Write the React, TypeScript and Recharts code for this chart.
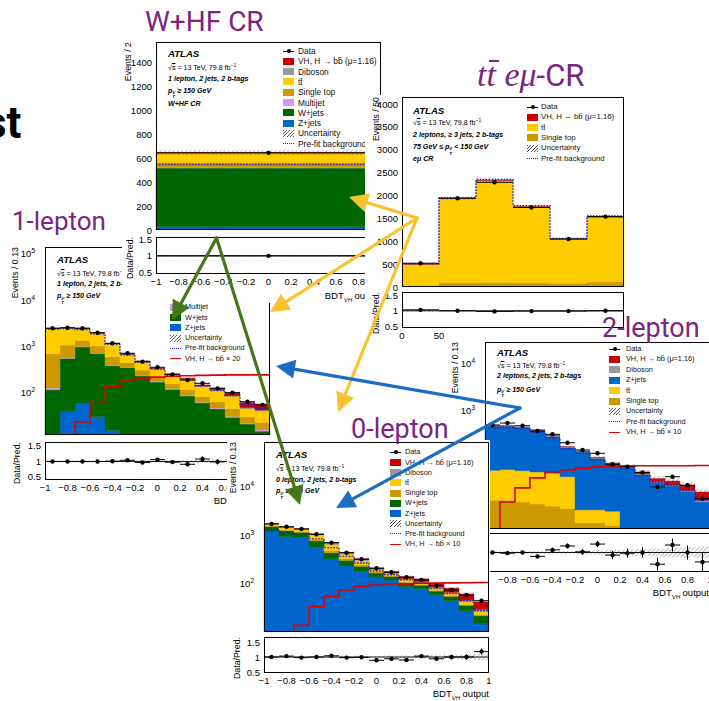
import React from 'react';
import { ComposedChart, Bar, Line, Scatter, XAxis, YAxis, ReferenceLine, ErrorBar } from 'recharts';

const FONT = '"Liberation Sans", Arial, Helvetica, sans-serif';
const TITLE_FONT = 'Roboto, "Noto Sans", sans-serif';

const COL = {
  vh: '#cc0000', dib: '#999999', tt: '#ffcc00', stop: '#cc9900', mj: '#cc99ff',
  w: '#006600', z: '#0066cc', pre: '#2020d0', sig: '#dd0000', purple: '#7b2481',
  green: '#437718', yellow: '#f9c22e', blue: '#1d6cc4',
};

// axis ticks
const bdtTicks = [-1, -0.8, -0.6, -0.4, -0.2, 0, 0.2, 0.4, 0.6, 0.8, 1];
const mbbTicks = [0, 50, 100, 150, 200, 250, 300];
const mbbLabels = [0, 50];
const ratioTicks = [0.5, 1, 1.5];
const logTicks = [10, 100, 1000, 10000, 100000];
const l2LogLabels = [1000, 10000];
const whfYTicks = [0, 200, 400, 600, 800, 1000, 1200, 1400];
const emYTicks = [0, 500, 1000, 1500, 2000, 2500, 3000, 3500, 4000];

// W+HF CR (1 lepton, one BDT bin)
const whfZ = [28];
const whfW = [488];
const whfMJ = [3];
const whfStop = [40];
const whfTt = [80];
const whfDib = [5];
const whfVH = [1];
const whfData = [643];
const whfPre = [546];
const whfUnc = [0.03];
const whfRatio = [1.0];
const whfRatioErr = [0.03];

// ttbar e-mu CR
const emStop = [30, 90, 100, 90, 80, 110];
const emTt = [470, 1850, 2230, 1670, 970, 1420];
const emVH = [1, 2, 2, 2, 1, 2];
const emData = [520, 1940, 2290, 1740, 1050, 1540];
const emPre = [505, 1955, 2350, 1780, 1060, 1555];
const emUnc = [0.03, 0.02, 0.02, 0.02, 0.02, 0.02];
const emRatio = [1.03, 1.0, 0.98, 0.99, 0.99, 1.0];
const emRatioErr = [0.04, 0.02, 0.02, 0.02, 0.03, 0.03];

// 1-lepton SR
const l1Z = [5, 40, 58, 30, 15, 6, 4, 3, 2, 2, 1.5, 1.2, 1, 0.8, 0.6];
const l1W = [110, 505, 907, 670, 365, 340, 225, 165, 115, 82, 58, 43, 28, 20, 14];
const l1MJ = [10, 15, 20, 15, 10, 8, 6, 5, 4, 3, 2, 2, 1.5, 1, 1];
const l1Stop = [560, 500, 350, 300, 200, 90, 70, 45, 35, 30, 20, 17, 14, 8, 7];
const l1Tt = [1740, 1430, 1090, 930, 545, 225, 165, 105, 87, 78, 53, 48, 40, 15, 17];
const l1Dib = [20, 20, 20, 18, 12, 8, 6, 5, 4, 3, 3, 3, 2, 2, 2];
const l1VH = [1, 1, 1.5, 2, 2, 3, 3, 4, 5, 6, 8, 10, 12, 14, 14];
const l1Data = [2445, 2510, 2445, 1963, 1159, 705, 464, 351, 247, 186, 158, 123, 99, 63, 54];
const l1Pre = [2350, 2400, 2300, 1850, 1100, 650, 450, 320, 240, 190, 140, 110, 85, 55, 45];
const l1Sig = [5, 8, 23, 63, 134, 186, 200, 215, 225, 230, 235, 238, 240, 240, 240];
const l1Unc = [0.03, 0.03, 0.03, 0.03, 0.03, 0.03, 0.04, 0.04, 0.04, 0.05, 0.05, 0.06, 0.06, 0.07, 0.08];
const l1Ratio = [1.0, 1.0, 1.0, 1.0, 1.01, 1.04, 0.97, 1.06, 0.98, 0.91, 1.08, 0.99, 1.0, 1.03, 0.97];
const l1RatioErr = [0.02, 0.02, 0.02, 0.02, 0.03, 0.04, 0.05, 0.05, 0.06, 0.07, 0.08, 0.09, 0.1, 0.12, 0.13];

// 0-lepton SR
const l0Z = [1200, 950, 900, 570, 330, 235, 180, 140, 120, 88, 80, 60, 45, 28, 15];
const l0W = [330, 300, 250, 200, 110, 70, 50, 28, 22, 18, 14, 11, 10, 8, 7];
const l0Stop = [60, 50, 45, 60, 45, 30, 20, 8, 6, 5, 4, 3, 3, 2, 1.5];
const l0Tt = [140, 150, 140, 190, 160, 80, 50, 20, 15, 12, 10, 8, 6, 5, 4];
const l0Dib = [30, 30, 30, 40, 55, 25, 22, 8, 6, 5, 4, 4, 3, 3, 2];
const l0VH = [3, 3, 4, 5, 6, 7, 9, 11, 12, 14, 15, 17, 15, 16, 13];
const l0Data = [1726, 1515, 1360, 1060, 710, 441, 322, 210, 174, 137, 121, 92, 75, 59, 45];
const l0Pre = [1300, 1180, 1100, 850, 560, 370, 270, 185, 155, 122, 105, 80, 63, 45, 28];
const l0Sig = [5, 8, 14, 34, 55, 75, 88, 95, 100, 100, 103, 104, 105, 106, 107];
const l0Unc = [0.03, 0.03, 0.03, 0.03, 0.03, 0.04, 0.04, 0.04, 0.05, 0.05, 0.06, 0.06, 0.07, 0.08, 0.1];
const l0Ratio = [1.0, 1.03, 0.98, 1.0, 1.04, 0.98, 0.99, 0.89, 0.94, 0.9, 1.03, 0.94, 1.0, 1.0, 1.18];
const l0RatioErr = [0.02, 0.02, 0.03, 0.03, 0.03, 0.04, 0.04, 0.05, 0.05, 0.06, 0.06, 0.07, 0.08, 0.09, 0.1];

// 2-lepton SR
const l2Stop = [12, 12, 11, 10, 9, 8, 4, 4, 3.5, 1, 0.5, 0.3, 0.2, 0.1, 0.1];
const l2Tt = [40, 42, 40, 38, 36, 30, 3.5, 3.5, 3.5, 1, 0.5, 0.3, 0.2, 0.1, 0.1];
const l2Z = [400, 400, 370, 320, 230, 120, 120, 85, 62, 57, 41, 28, 24, 18, 11];
const l2Dib = [8, 8, 8, 10, 10, 6, 4, 3, 2.5, 2, 1.5, 1.2, 1, 1, 0.8];
const l2VH = [0.5, 0.6, 0.8, 1, 1.2, 1.5, 2, 2.5, 3, 3.5, 4.5, 5, 5.5, 6, 6];
const l2Data = [480, 528, 463, 357, 304, 201, 141, 120, 70, 62, 47, 23, 38, 25, 13];
const l2Pre = [430, 430, 400, 340, 255, 150, 120, 88, 66, 56, 40, 29, 25, 19, 12];
const l2Sig = [2, 11, 22, 36, 48, 53, 58, 62, 63, 64, 65, 65, 65, 65, 66];
const l2Unc = [0.04, 0.04, 0.04, 0.04, 0.05, 0.05, 0.06, 0.07, 0.08, 0.09, 0.1, 0.12, 0.14, 0.16, 0.18];
const l2Ratio = [1.0, 0.98, 1.0, 0.88, 1.08, 1.2, 1.02, 1.26, 0.92, 0.98, 1.0, 0.64, 1.23, 1.0, 0.71];
const l2RatioErr = [0.05, 0.05, 0.05, 0.06, 0.07, 0.08, 0.09, 0.1, 0.13, 0.14, 0.16, 0.2, 0.2, 0.22, 0.3];

const BB = 'bb\u0304';
const TT = 'tt\u0304';

// minor tick marks (no labels)
const steps = (a: number, b: number, d: number) => Array.from({ length: Math.round((b - a) / d) + 1 }, (_, i) => +(a + i * d).toFixed(4));
const bdtMinor = steps(-1, 1, 0.04);
const mbbMinor = steps(0, 300, 10);
const ratioMinor = steps(0.4, 1.7, 0.1);
const logMinor = [0, 1, 2, 3, 4, 5].flatMap((d) => [2, 3, 4, 5, 6, 7, 8, 9].map((m) => m * 10 ** d));

const bdtFmt = (v: number) => {
  if (v === 0) return '0';
  const a = Math.abs(v);
  return (v < 0 ? '\u2212' : '') + (a === 1 ? '1' : a.toFixed(1));
};

const YW = 40;
const PAD = 8;
const inDom = (t: number[], d: number[]) => t.filter((v) => v >= d[0] - 1e-9 && v <= d[1] + 1e-9);

function hatch(id: string) {
  return (
    <defs>
      <pattern id={id} width={3} height={3} patternUnits="userSpaceOnUse" patternTransform="rotate(45)">
        <line x1={0} y1={0} x2={0} y2={3} stroke="#666" strokeWidth={0.9} />
      </pattern>
    </defs>
  );
}

const dotShape = (half: number) => (props: any) => (
  <g>
    <line x1={props.cx - half} x2={props.cx + half} y1={props.cy} y2={props.cy} stroke="#000" strokeWidth={1} />
    <circle cx={props.cx} cy={props.cy} r={2.2} fill="#000" />
  </g>
);

const yTick = (log: boolean, fmt?: (v: number) => string) => (props: any) => {
  const { x, y, payload } = props;
  if (log) {
    const e = Math.round(Math.log10(payload.value));
    return (
      <text x={x - 6} y={y} dy={3.5} textAnchor="end" fontSize={9.5} fontFamily={FONT} fill="#000">
        10<tspan dy={-4} fontSize={6.5}>{e}</tspan>
      </text>
    );
  }
  return (
    <text x={x} y={y} dy={3.5} textAnchor="end" fontSize={9.5} fontFamily={FONT} fill="#000">
      {fmt ? fmt(payload.value) : payload.value}
    </text>
  );
};

// frame tick marks: mirrored axes (inward ticks, no labels)
function tickAxes(xDom: number[], xMaj: number[], xMin: number[], yDom: number[], yMaj: number[], yMin: number[], scale: string) {
  const common = { interval: 0 as const, allowDataOverflow: true, mirror: true, tick: false, stroke: '#000', axisLine: false, tickLine: { stroke: '#000', strokeWidth: 0.8 } };
  return [
    <XAxis key="xb1" xAxisId="tb1" type="number" dataKey="x" domain={xDom} ticks={inDom(xMaj, xDom)} height={0} tickSize={5} {...common} />,
    <XAxis key="xb2" xAxisId="tb2" type="number" dataKey="x" domain={xDom} ticks={inDom(xMin, xDom)} height={0} tickSize={2.5} {...common} />,
    <XAxis key="xt1" xAxisId="tt1" type="number" dataKey="x" orientation="top" domain={xDom} ticks={inDom(xMaj, xDom)} height={0} tickSize={5} {...common} />,
    <XAxis key="xt2" xAxisId="tt2" type="number" dataKey="x" orientation="top" domain={xDom} ticks={inDom(xMin, xDom)} height={0} tickSize={2.5} {...common} />,
    <YAxis key="yl1" yAxisId="tl1" type="number" scale={scale as any} domain={yDom} ticks={inDom(yMaj, yDom)} width={0} tickSize={5} {...common} />,
    <YAxis key="yl2" yAxisId="tl2" type="number" scale={scale as any} domain={yDom} ticks={inDom(yMin, yDom)} width={0} tickSize={2.5} {...common} />,
    <YAxis key="yr1" yAxisId="tr1" type="number" orientation="right" scale={scale as any} domain={yDom} ticks={inDom(yMaj, yDom)} width={0} tickSize={5} {...common} />,
    <YAxis key="yr2" yAxisId="tr2" type="number" orientation="right" scale={scale as any} domain={yDom} ticks={inDom(yMin, yDom)} width={0} tickSize={2.5} {...common} />,
  ];
}

function Box({ f }: { f: any }) {
  return <div style={{ position: 'absolute', left: f.x, top: f.y, width: f.w, height: f.h, border: '1px solid #000', boxSizing: 'border-box', pointerEvents: 'none' }} />;
}

function MainPlot({ p }: { p: any }) {
  const n = p.data.length;
  const step = (p.xDomain[1] - p.xDomain[0]) / n;
  const centre = (i: number) => p.xDomain[0] + (i + 0.5) * step;
  const rows = p.data.map((_: number, i: number) => {
    const r: any = { bin: i, x: centre(i) };
    let tot = 0;
    p.comps.forEach((c: any) => { r[c.key] = c.vals[i]; tot += c.vals[i]; });
    r.band = [tot * (1 - p.unc[i]), tot * (1 + p.unc[i])];
    return r;
  });
  const edgeRows = Array.from({ length: n + 1 }, (_, i) => ({
    x: p.xDomain[0] + i * step,
    pre: p.pre[Math.min(i, n - 1)],
    sig: p.sig ? p.sig[Math.min(i, n - 1)] : null,
  }));
  const pts = p.data.map((v: number, i: number) => ({ x: centre(i), y: v }));
  const { x, y, w, h } = p.main;
  const scale = p.log ? 'log' : 'linear';
  return (
    <>
      <div style={{ position: 'absolute', left: x - YW, top: y - PAD }}>
        <ComposedChart width={w + YW + PAD} height={h + 2 * PAD} data={rows} margin={{ top: PAD, right: PAD, bottom: PAD, left: 0 }} barCategoryGap={0} barGap={0}>
          {hatch(`hm-${p.id}`)}
          <XAxis xAxisId="n" dataKey="x" type="number" domain={p.xDomain} allowDataOverflow hide height={0} />
          <XAxis xAxisId="c" dataKey="bin" type="category" hide height={0} />
          <XAxis xAxisId="b" dataKey="bin" type="category" hide height={0} />
          <YAxis yAxisId="l" type="number" scale={scale} domain={p.yDomain} ticks={inDom(p.yLabels || p.yTicks, p.yDomain)} interval={0} allowDataOverflow width={YW} tickSize={0} tickMargin={4} axisLine={false} tickLine={false} tick={yTick(p.log)} />
          {tickAxes(p.xDomain, p.xTicks, p.xMinor, p.yDomain, p.yTicks, p.yMinor, scale)}
          {p.comps.map((c: any) => (
            <Bar key={c.key} xAxisId="c" yAxisId="l" dataKey={c.key} stackId="s" fill={c.color} stroke={c.color} strokeWidth={0.4} isAnimationActive={false} />
          ))}
          <Bar xAxisId="b" yAxisId="l" dataKey="band" fill={`url(#hm-${p.id})`} isAnimationActive={false} />
          <Line xAxisId="n" yAxisId="l" data={edgeRows} dataKey="pre" type="stepAfter" stroke={COL.pre} strokeWidth={1.4} strokeDasharray="1.6 1.4" dot={false} isAnimationActive={false} />
          {p.sig && (
            <Line xAxisId="n" yAxisId="l" data={edgeRows} dataKey="sig" type="stepAfter" stroke={COL.sig} strokeWidth={1.6} dot={false} isAnimationActive={false} />
          )}
          <Scatter xAxisId="n" yAxisId="l" data={pts} dataKey="y" shape={dotShape(w / n / 2)} isAnimationActive={false} />
        </ComposedChart>
      </div>
      <Box f={p.main} />
    </>
  );
}

function RatioPlot({ p }: { p: any }) {
  const n = p.ratioVals.length;
  const step = (p.xDomain[1] - p.xDomain[0]) / n;
  const centre = (i: number) => p.xDomain[0] + (i + 0.5) * step;
  const rows = p.unc.map((u: number, i: number) => ({ bin: i, x: centre(i), band: [1 - u, 1 + u] }));
  const pts = p.ratioVals.map((v: number, i: number) => ({ x: centre(i), y: v, ey: p.ratioErr[i] }));
  const { x, y, w, h } = p.ratio;
  return (
    <>
      <div style={{ position: 'absolute', left: x - YW, top: y - PAD }}>
        <ComposedChart width={w + YW + PAD} height={h + 22 + PAD} data={rows} margin={{ top: PAD, right: PAD, bottom: 0, left: 0 }} barCategoryGap={0} barGap={0}>
          {hatch(`hr-${p.id}`)}
          <XAxis xAxisId="n" dataKey="x" type="number" domain={p.xDomain} ticks={p.xLabels || p.xTicks} interval={0} allowDataOverflow height={22} tickSize={0} tickMargin={3} axisLine={false} tickLine={false}
            tick={(t: any) => (
              <text x={t.x} y={t.y} dy={7.5} textAnchor="middle" fontSize={9.5} fontFamily={FONT} fill="#000">{p.xFmt(t.payload.value)}</text>
            )} />
          <XAxis xAxisId="b" dataKey="bin" type="category" hide height={0} />
          <YAxis yAxisId="l" type="number" domain={p.rDomain} ticks={ratioTicks} interval={0} allowDataOverflow width={YW} tickSize={0} tickMargin={4} axisLine={false} tickLine={false} tick={yTick(false, (v) => String(v))} />
          {tickAxes(p.xDomain, p.xTicks, p.xMinor, p.rDomain, ratioTicks, ratioMinor, 'linear')}
          <Bar xAxisId="b" yAxisId="l" dataKey="band" fill={`url(#hr-${p.id})`} isAnimationActive={false} />
          <ReferenceLine xAxisId="n" yAxisId="l" y={1} stroke="#000" strokeWidth={0.9} />
          <Scatter xAxisId="n" yAxisId="l" data={pts} dataKey="y" shape={dotShape(w / n / 2)} isAnimationActive={false}>
            <ErrorBar dataKey="ey" direction="y" width={0} stroke="#000" strokeWidth={1} />
          </Scatter>
        </ComposedChart>
      </div>
      <Box f={p.ratio} />
    </>
  );
}

function Swatch({ kind, color }: { kind: string; color?: string }) {
  const base: React.CSSProperties = { position: 'absolute', left: 0, top: 0, width: 11, height: 7 };
  if (kind === 'data') {
    return (
      <div style={base}>
        <div style={{ position: 'absolute', left: 0, top: 3, width: 11, height: 1, background: '#000' }} />
        <div style={{ position: 'absolute', left: 3.5, top: 1.5, width: 4, height: 4, borderRadius: 2, background: '#000' }} />
      </div>
    );
  }
  if (kind === 'box') return <div style={{ ...base, background: color }} />;
  if (kind === 'hatch') {
    return <div style={{ ...base, background: 'repeating-linear-gradient(-45deg, #555 0 0.8px, #fff 0.8px 2.4px)' }} />;
  }
  if (kind === 'dash') return <div style={{ ...base, top: 3, height: 0, borderTop: `1.6px dotted ${COL.pre}` }} />;
  return <div style={{ ...base, top: 3, height: 0, borderTop: `1.6px solid ${COL.sig}` }} />;
}

function Legend({ sx, tx, y0, dy, items, skip = 0, fs = 7.3 }: { sx: number; tx: number; y0: number; dy: number; items: any[]; skip?: number; fs?: number }) {
  return (
    <>
      {items.map((it, i) => {
        if (i < skip) return null;
        const cy = y0 + i * dy;
        return (
          <React.Fragment key={i}>
            <div style={{ position: 'absolute', left: sx, top: cy - 3.5, width: 11, height: 7 }}>
              <Swatch kind={it.kind} color={it.color} />
            </div>
            <div style={{ position: 'absolute', left: tx, top: cy - 5, height: 10, lineHeight: '10px', fontSize: fs, fontFamily: FONT, color: '#111', whiteSpace: 'nowrap' }}>
              {it.label}
            </div>
          </React.Fragment>
        );
      })}
    </>
  );
}

const Pt = () => (
  <span>
    <i>p</i>
    <span style={{ display: 'inline-flex', flexDirection: 'column', fontSize: '0.62em', lineHeight: 0.95, verticalAlign: '-0.3em' }}>
      <span>V</span><span>T</span>
    </span>
  </span>
);

const Sqrt = () => (
  <span>{'\u221A'}<span style={{ textDecoration: 'overline' }}>s</span> = 13 TeV, 79.8 fb<sup style={{ fontSize: '0.7em' }}>{'\u22121'}</sup></span>
);

function Atlas({ x, ys, lines }: { x: number; ys: number[]; lines: React.ReactNode[] }) {
  return (
    <>
      {lines.map((l, i) => {
        const fs = i === 0 ? 9.6 : 7.1;
        return (
          <div key={i} style={{ position: 'absolute', left: x, top: ys[i] - fs * 0.6, lineHeight: `${fs * 1.2}px`, fontSize: fs, fontFamily: FONT, fontWeight: i === 1 ? 400 : 700, fontStyle: i === 1 ? 'normal' : 'italic', whiteSpace: 'nowrap', color: '#000' }}>
            {l}
          </div>
        );
      })}
    </>
  );
}

function VText({ cx, top, text, fs = 8.8 }: { cx: number; top: number; text: string; fs?: number }) {
  return (
    <div style={{ position: 'absolute', left: cx - fs * 0.5, top, writingMode: 'vertical-rl', transform: 'rotate(180deg)', fontSize: fs, lineHeight: `${fs}px`, fontFamily: FONT, whiteSpace: 'nowrap', color: '#000' }}>
      {text}
    </div>
  );
}

function XTitle({ right, cy }: { right: number; cy: number }) {
  return (
    <div style={{ position: 'absolute', right: 709 - right, top: cy - 6, fontSize: 9.5, lineHeight: '11px', fontFamily: FONT, whiteSpace: 'nowrap', color: '#000' }}>
      BDT<sub style={{ fontSize: '0.62em', fontStyle: 'italic', lineHeight: 0 }}>VH</sub> output
    </div>
  );
}

function Layer({ z, bg, children }: { z: number; bg?: number[]; children: React.ReactNode }) {
  return (
    <div style={{ position: 'absolute', left: 0, top: 0, width: 709, height: 701, zIndex: z }}>
      {bg && <div style={{ position: 'absolute', left: bg[0], top: bg[1], width: bg[2], height: bg[3], background: '#fff' }} />}
      {children}
    </div>
  );
}

function Arrow({ x1, y1, x2, y2, color }: { x1: number; y1: number; x2: number; y2: number; color: string }) {
  const dx = x2 - x1, dy = y2 - y1, L = Math.hypot(dx, dy);
  const ux = dx / L, uy = dy / L;
  const head = 19, hw = 9.5;
  const bx = x2 - ux * head, by = y2 - uy * head;
  const px = -uy, py = ux;
  return (
    <g>
      <line x1={x1} y1={y1} x2={bx + ux * 2} y2={by + uy * 2} stroke={color} strokeWidth={3.2} strokeLinecap="round" />
      <polygon points={`${x2},${y2} ${bx + px * hw},${by + py * hw} ${bx - px * hw},${by - py * hw}`} fill={color} />
    </g>
  );
}

const leg = {
  data: { kind: 'data', label: 'Data' },
  vh: { kind: 'box', color: COL.vh, label: `VH, H \u2192 ${BB} (\u03BC=1.16)` },
  dib: { kind: 'box', color: COL.dib, label: 'Diboson' },
  tt: { kind: 'box', color: COL.tt, label: TT },
  stop: { kind: 'box', color: COL.stop, label: 'Single top' },
  mj: { kind: 'box', color: COL.mj, label: 'Multijet' },
  w: { kind: 'box', color: COL.w, label: 'W+jets' },
  z: { kind: 'box', color: COL.z, label: 'Z+jets' },
  unc: { kind: 'hatch', label: 'Uncertainty' },
  pre: { kind: 'dash', label: 'Pre-fit background' },
  s20: { kind: 'line', label: `VH, H \u2192 ${BB} \u00D7 20` },
  s10: { kind: 'line', label: `VH, H \u2192 ${BB} \u00D7 10` },
};

const frame = (x: number, y: number, w: number, h: number) => ({ x, y, w, h });

const whf = {
  id: 'whf', main: frame(156, 42, 225, 188), ratio: frame(156, 237, 225, 37),
  xDomain: [-1, 1], xTicks: bdtTicks, xMinor: bdtMinor, xFmt: bdtFmt, log: false,
  yDomain: [0, 1567], yTicks: whfYTicks, yMinor: steps(0, 1560, 40), rDomain: [0.45, 1.57],
  comps: [
    { key: 'z', color: COL.z, vals: whfZ }, { key: 'w', color: COL.w, vals: whfW }, { key: 'mj', color: COL.mj, vals: whfMJ },
    { key: 'stop', color: COL.stop, vals: whfStop }, { key: 'tt', color: COL.tt, vals: whfTt }, { key: 'dib', color: COL.dib, vals: whfDib },
    { key: 'vh', color: COL.vh, vals: whfVH },
  ],
  unc: whfUnc, data: whfData, pre: whfPre, ratioVals: whfRatio, ratioErr: whfRatioErr,
};

const em = {
  id: 'em', main: frame(402, 97, 222, 190), ratio: frame(402, 292, 222, 36),
  xDomain: [0, 300], xTicks: mbbTicks, xLabels: mbbLabels, xMinor: mbbMinor, xFmt: (v: number) => String(v), log: false,
  yDomain: [0, 4155], yTicks: emYTicks, yMinor: steps(0, 4100, 100), rDomain: [0.45, 1.6],
  comps: [
    { key: 'stop', color: COL.stop, vals: emStop }, { key: 'tt', color: COL.tt, vals: emTt }, { key: 'vh', color: COL.vh, vals: emVH },
  ],
  unc: emUnc, data: emData, pre: emPre, ratioVals: emRatio, ratioErr: emRatioErr,
};

const one = {
  id: 'l1', main: frame(45, 247, 225, 188), ratio: frame(45, 442, 225, 38),
  xDomain: [-1, 1], xTicks: bdtTicks, xMinor: bdtMinor, xFmt: bdtFmt, log: true,
  yDomain: [12.05, 140000], yTicks: logTicks, yMinor: logMinor, rDomain: [0.403, 1.629],
  comps: [
    { key: 'z', color: COL.z, vals: l1Z }, { key: 'w', color: COL.w, vals: l1W }, { key: 'mj', color: COL.mj, vals: l1MJ },
    { key: 'stop', color: COL.stop, vals: l1Stop }, { key: 'tt', color: COL.tt, vals: l1Tt }, { key: 'dib', color: COL.dib, vals: l1Dib },
    { key: 'vh', color: COL.vh, vals: l1VH },
  ],
  unc: l1Unc, data: l1Data, pre: l1Pre, sig: l1Sig, ratioVals: l1Ratio, ratioErr: l1RatioErr,
};

const zero = {
  id: 'l0', main: frame(264, 442, 225, 190), ratio: frame(264, 637, 225, 36),
  xDomain: [-1, 1], xTicks: bdtTicks, xMinor: bdtMinor, xFmt: bdtFmt, log: true,
  yDomain: [10.2, 84700], yTicks: logTicks, yMinor: logMinor, rDomain: [0.467, 1.667],
  comps: [
    { key: 'z', color: COL.z, vals: l0Z }, { key: 'w', color: COL.w, vals: l0W },
    { key: 'stop', color: COL.stop, vals: l0Stop }, { key: 'tt', color: COL.tt, vals: l0Tt }, { key: 'dib', color: COL.dib, vals: l0Dib },
    { key: 'vh', color: COL.vh, vals: l0VH },
  ],
  unc: l0Unc, data: l0Data, pre: l0Pre, sig: l0Sig, ratioVals: l0Ratio, ratioErr: l0RatioErr,
};

const two = {
  id: 'l2', main: frame(485, 342, 225, 187), ratio: frame(485, 533, 225, 39),
  xDomain: [-1, 1], xTicks: bdtTicks, xMinor: bdtMinor, xFmt: bdtFmt, log: true,
  yDomain: [2.94, 28000], yTicks: logTicks, yLabels: l2LogLabels, yMinor: logMinor, rDomain: [0.4, 1.6],
  comps: [
    { key: 'stop', color: COL.stop, vals: l2Stop }, { key: 'tt', color: COL.tt, vals: l2Tt }, { key: 'z', color: COL.z, vals: l2Z },
    { key: 'dib', color: COL.dib, vals: l2Dib }, { key: 'vh', color: COL.vh, vals: l2VH },
  ],
  unc: l2Unc, data: l2Data, pre: l2Pre, sig: l2Sig, ratioVals: l2Ratio, ratioErr: l2RatioErr,
};

function Title({ x, base, size, children }: { x: number; base: number; size: number; children: React.ReactNode }) {
  return (
    <div style={{ position: 'absolute', left: x, top: base - size * 0.842, fontSize: size, lineHeight: `${size}px`, fontFamily: TITLE_FONT, color: COL.purple, whiteSpace: 'nowrap' }}>
      {children}
    </div>
  );
}

export default function App() {
  return (
    <div style={{ position: 'absolute', left: 0, top: 0, width: 709, height: 701, background: '#fff', overflow: 'hidden', fontFamily: FONT }}>
      <div style={{ position: 'absolute', left: -16, top: 101, fontSize: 44, lineHeight: '44px', fontFamily: TITLE_FONT, fontWeight: 700, color: '#000' }}>st</div>

      {/* 1-lepton */}
      <Layer z={1}>
        <MainPlot p={one} />
        <RatioPlot p={one} />
        <VText cx={15} top={247} text="Events / 0.13" />
        <VText cx={17} top={442} text="Data/Pred." />
        <XTitle right={270} cy={501} />
        <Atlas x={57} ys={[260, 271.7, 284, 296.7]} lines={['ATLAS', <Sqrt />, '1 lepton, 2 jets, 2 b-tags', <span><Pt /> {'\u2265'} 150 GeV</span>]} />
        <Legend sx={170} tx={185} y0={255.7} dy={10.3} skip={5} items={[leg.data, leg.vh, leg.dib, leg.tt, leg.stop, leg.mj, leg.w, leg.z, leg.unc, leg.pre, leg.s20]} />
      </Layer>

      {/* W+HF CR */}
      <Layer z={2} bg={[122, 38, 263, 265]}>
        <MainPlot p={whf} />
        <RatioPlot p={whf} />
        <VText cx={128} top={42} text="Events / 2" />
        <VText cx={130} top={237} text="Data/Pred." />
        <XTitle right={381} cy={296} />
        <Atlas x={168} ys={[54, 66, 79, 91, 104]} lines={['ATLAS', <Sqrt />, '1 lepton, 2 jets, 2 b-tags', <span><Pt /> {'\u2265'} 150 GeV</span>, 'W+HF CR']} />
        <Legend sx={283} tx={298} y0={51} dy={10.3} fs={8.4} items={[leg.data, leg.vh, leg.dib, leg.tt, leg.stop, leg.mj, leg.w, leg.z, leg.unc, leg.pre]} />
      </Layer>

      {/* ttbar e-mu CR */}
      <Layer z={3} bg={[365, 95, 267, 250]}>
        <MainPlot p={em} />
        <RatioPlot p={em} />
        <VText cx={376} top={97} text="Events / 50" />
        <VText cx={376} top={292} text="Data/Pred." />
        <Atlas x={413} ys={[110.7, 121.3, 135, 147.3, 159.3]} lines={['ATLAS', <Sqrt />, `2 leptons, \u2265 3 jets, 2 b-tags`, <span>75 GeV {'\u2264'} <Pt /> &lt; 150 GeV</span>, 'e\u03BC CR']} />
        <Legend sx={527} tx={541} y0={107} dy={10.3} fs={7.8} items={[leg.data, leg.vh, leg.tt, leg.stop, leg.unc, leg.pre]} />
      </Layer>

      {/* 2-lepton */}
      <Layer z={4} bg={[445, 330, 264, 275]}>
        <MainPlot p={two} />
        <RatioPlot p={two} />
        <VText cx={455} top={342} text="Events / 0.13" />
        <VText cx={459} top={533} text="Data/Pred." />
        <XTitle right={709} cy={593} />
        <Atlas x={497} ys={[352.7, 364.3, 376.7, 390]} lines={['ATLAS', <Sqrt />, '2 leptons, 2 jets, 2 b-tags', <span><Pt /> {'\u2265'} 150 GeV</span>]} />
        <Legend sx={609} tx={626} y0={349} dy={10.4} items={[leg.data, leg.vh, leg.dib, leg.z, leg.tt, leg.stop, leg.unc, leg.pre, leg.s10]} />
      </Layer>

      {/* 0-lepton */}
      <Layer z={5} bg={[227, 440, 263, 261]}>
        <MainPlot p={zero} />
        <RatioPlot p={zero} />
        <VText cx={233} top={442} text="Events / 0.13" />
        <VText cx={237} top={637} text="Data/Pred." />
        <XTitle right={489} cy={694} />
        <Atlas x={276} ys={[455, 467.3, 480, 491.7]} lines={['ATLAS', <Sqrt />, '0 lepton, 2 jets, 2 b-tags', <span><Pt /> {'\u2265'} 150 GeV</span>]} />
        <Legend sx={390} tx={405} y0={452.3} dy={10.2} items={[leg.data, leg.vh, leg.dib, leg.tt, leg.stop, leg.w, leg.z, leg.unc, leg.pre, leg.s10]} />
      </Layer>

      {/* titles */}
      <Layer z={6}>
        <Title x={145} base={31.7} size={28}>W+HF CR</Title>
        <Title x={12} base={230} size={26}>1-lepton</Title>
        <Title x={351} base={439} size={27}>0-lepton</Title>
        <Title x={602} base={338} size={27}>2-lepton</Title>
        <div style={{ position: 'absolute', left: 477, top: 55, fontSize: 34, lineHeight: '38px', color: COL.purple, whiteSpace: 'nowrap' }}>
          <span style={{ fontFamily: '"Liberation Serif", "DejaVu Serif", serif', fontStyle: 'italic' }}>
            t<span style={{ position: 'relative', display: 'inline-block' }}>
              t<span style={{ position: 'absolute', left: '0.08em', top: '0.12em', width: '0.3em', height: 2, background: COL.purple }} />
            </span>{' '}e{'\u03BC'}
          </span>
          <span style={{ fontFamily: TITLE_FONT, fontSize: 31 }}>-CR</span>
        </div>
      </Layer>

      {/* arrows */}
      <Layer z={7}>
        <svg width={709} height={701} style={{ position: 'absolute', left: 0, top: 0 }}>
          <Arrow x1={216.5} y1={238} x2={172} y2={320} color={COL.green} />
          <Arrow x1={216.5} y1={238} x2={300} y2={505} color={COL.green} />
          <Arrow x1={417} y1={218} x2={349} y2={197} color={COL.yellow} />
          <Arrow x1={417} y1={218} x2={270} y2={312} color={COL.yellow} />
          <Arrow x1={417} y1={218} x2={338} y2={412} color={COL.yellow} />
          <Arrow x1={520} y1={408} x2={276} y2={366} color={COL.blue} />
          <Arrow x1={520} y1={408} x2={336} y2={508} color={COL.blue} />
        </svg>
      </Layer>
    </div>
  );
}
